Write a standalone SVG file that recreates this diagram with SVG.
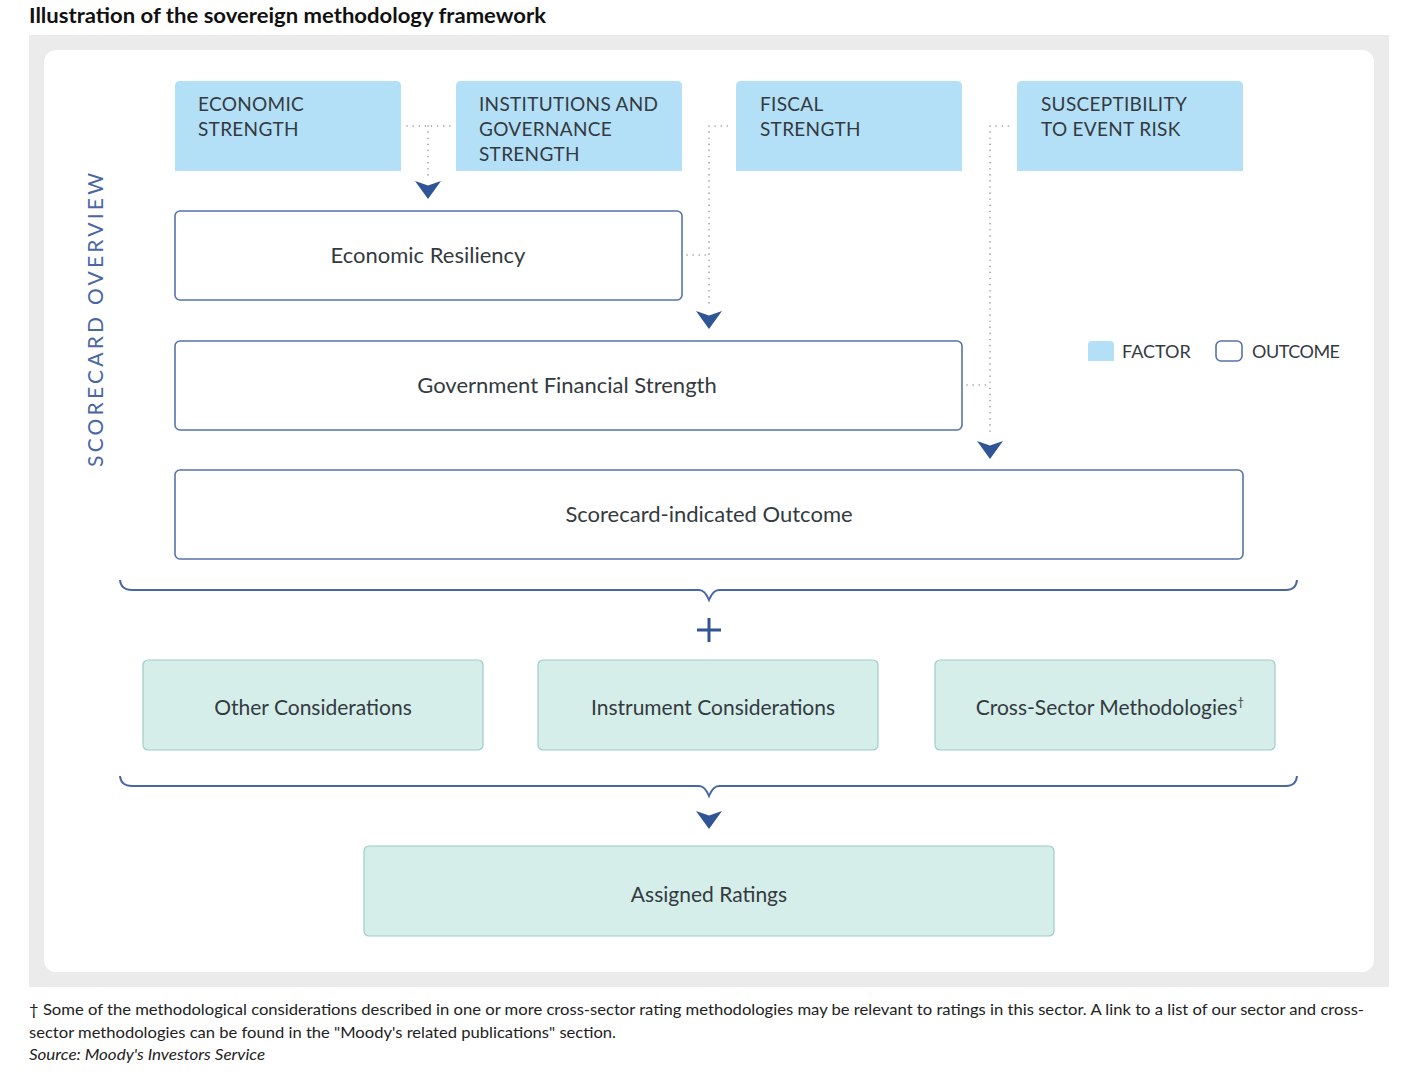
<svg xmlns="http://www.w3.org/2000/svg" width="1414" height="1082" viewBox="0 0 1414 1082">
  <style>
    .title{font-family:"Lato","Noto Sans","Liberation Sans",sans-serif;font-weight:bold;font-size:21px;fill:#111}
    .foot{font-family:"Lato","Noto Sans","Liberation Sans",sans-serif;font-size:16px;fill:#222}
    .factor{fill:#b3e0f7}
    .ftxt{font-family:"Lato","Noto Sans","Liberation Sans",sans-serif;font-size:19px;fill:#333a40;letter-spacing:0.3px}
    .outcome{fill:#fff;stroke:#5573ab;stroke-width:1.6}
    .otxt{font-family:"Lato","Noto Sans","Liberation Sans",sans-serif;font-size:22px;fill:#333a40;text-anchor:middle}
    .green{fill:#d5eeea;stroke:#9dcdc6;stroke-width:1.2}
    .gtxt{font-family:"Lato","Noto Sans","Liberation Sans",sans-serif;font-size:21px;fill:#333a40;text-anchor:middle}
    .dot{fill:none;stroke:#9a9a9a;stroke-width:1.6;stroke-dasharray:0.1 6;stroke-linecap:round}
    .brace{fill:none;stroke:#4a67a3;stroke-width:2}
    .chev{fill:#2f5597}
    .side{font-family:"Lato","Noto Sans","Liberation Sans",sans-serif;font-size:21px;fill:#4a67a3;text-anchor:middle}
    .leg{font-family:"Lato","Noto Sans","Liberation Sans",sans-serif;font-size:18px;fill:#333a40}
  </style>
  <defs>
    <path id="chev" class="chev" d="M-13,0 L0,4.5 L13,0 L0,18 Z"/>
  </defs>

  <rect width="1414" height="1082" fill="#fff"/>
  <text class="title" x="29" y="23" textLength="517" lengthAdjust="spacingAndGlyphs">Illustration of the sovereign methodology framework</text>

  <rect x="29" y="35" width="1360" height="952" fill="#ebebeb"/>
  <rect x="44" y="50" width="1330" height="922" rx="12" fill="#fff"/>

  <text class="side" transform="translate(103,320) rotate(-90)" textLength="294">SCORECARD OVERVIEW</text>

  <g id="connectors">
    <path class="dot" d="M407,126 H450 M428,126 V175"/>
    <path class="dot" d="M709,126 H730 M709,126 V305 M687,255 H709"/>
    <path class="dot" d="M990,126 H1011 M990,126 V435 M967,385 H990"/>
    <use href="#chev" x="428" y="181"/>
    <use href="#chev" x="709" y="311"/>
    <use href="#chev" x="990" y="441"/>
    <path class="brace" d="M120,580 Q121,590 132,590 H699 Q705,590 709,600 Q713,590 719,590 H1286 Q1296,590 1297,580"/>
    <path class="brace" d="M120,776 Q121,786 132,786 H699 Q705,786 709,796 Q713,786 719,786 H1286 Q1296,786 1297,776"/>
    <path d="M697,630 H721 M709,618 V642" stroke="#2f5597" stroke-width="3" fill="none"/>
    <use href="#chev" x="709" y="811"/>
  </g>

  <g id="economic-strength">
    <path class="factor" d="M175,171 V86 Q175,81 180,81 H396 Q401,81 401,86 V171 Z"/>
    <text class="ftxt" x="198" y="111">ECONOMIC</text>
    <text class="ftxt" x="198" y="136">STRENGTH</text>
  </g>
  <g id="institutions-governance">
    <path class="factor" d="M456,171 V86 Q456,81 461,81 H677 Q682,81 682,86 V171 Z"/>
    <text class="ftxt" x="479" y="111">INSTITUTIONS AND</text>
    <text class="ftxt" x="479" y="136">GOVERNANCE</text>
    <text class="ftxt" x="479" y="161">STRENGTH</text>
  </g>
  <g id="fiscal-strength">
    <path class="factor" d="M736,171 V86 Q736,81 741,81 H957 Q962,81 962,86 V171 Z"/>
    <text class="ftxt" x="760" y="111">FISCAL</text>
    <text class="ftxt" x="760" y="136">STRENGTH</text>
  </g>
  <g id="event-risk">
    <path class="factor" d="M1017,171 V86 Q1017,81 1022,81 H1238 Q1243,81 1243,86 V171 Z"/>
    <text class="ftxt" x="1041" y="111">SUSCEPTIBILITY</text>
    <text class="ftxt" x="1041" y="136">TO EVENT RISK</text>
  </g>

  <g id="economic-resiliency">
    <rect class="outcome" x="175" y="211" width="507" height="89" rx="5"/>
    <text class="otxt" x="428" y="263">Economic Resiliency</text>
  </g>
  <g id="government-financial-strength">
    <rect class="outcome" x="175" y="341" width="787" height="89" rx="5"/>
    <text class="otxt" x="567" y="393">Government Financial Strength</text>
  </g>
  <g id="scorecard-outcome">
    <rect class="outcome" x="175" y="470" width="1068" height="89" rx="5"/>
    <text class="otxt" x="709" y="522">Scorecard-indicated Outcome</text>
  </g>

  <g id="legend">
    <path class="factor" d="M1088,361 V345 Q1088,341 1092,341 H1110 Q1114,341 1114,345 V361 Z"/>
    <text class="leg" x="1122" y="358">FACTOR</text>
    <rect class="outcome" x="1216" y="341" width="26" height="20" rx="5"/>
    <text class="leg" x="1252" y="358" textLength="88">OUTCOME</text>
  </g>

  <g id="other-considerations">
    <rect class="green" x="143" y="660" width="340" height="90" rx="5"/>
    <text class="gtxt" x="313" y="715">Other Considerations</text>
  </g>
  <g id="instrument-considerations">
    <rect class="green" x="538" y="660" width="340" height="90" rx="5"/>
    <text class="gtxt" x="713" y="715">Instrument Considerations</text>
  </g>
  <g id="cross-sector">
    <rect class="green" x="935" y="660" width="340" height="90" rx="5"/>
    <text class="gtxt" x="1110" y="715">Cross-Sector Methodologies<tspan font-size="12" dy="-9">†</tspan></text>
  </g>
  <g id="assigned-ratings">
    <rect class="green" x="364" y="846" width="690" height="90" rx="5"/>
    <text class="gtxt" x="709" y="902">Assigned Ratings</text>
  </g>

  <text class="foot" x="29" y="1015" textLength="1335" lengthAdjust="spacingAndGlyphs">† Some of the methodological considerations described in one or more cross-sector rating methodologies may be relevant to ratings in this sector. A link to a list of our sector and cross-</text>
  <text class="foot" x="29" y="1038" textLength="587" lengthAdjust="spacingAndGlyphs">sector methodologies can be found in the "Moody's related publications" section.</text>
  <text class="foot" x="29" y="1060" font-style="italic" textLength="236" lengthAdjust="spacingAndGlyphs">Source: Moody's Investors Service</text>
</svg>
